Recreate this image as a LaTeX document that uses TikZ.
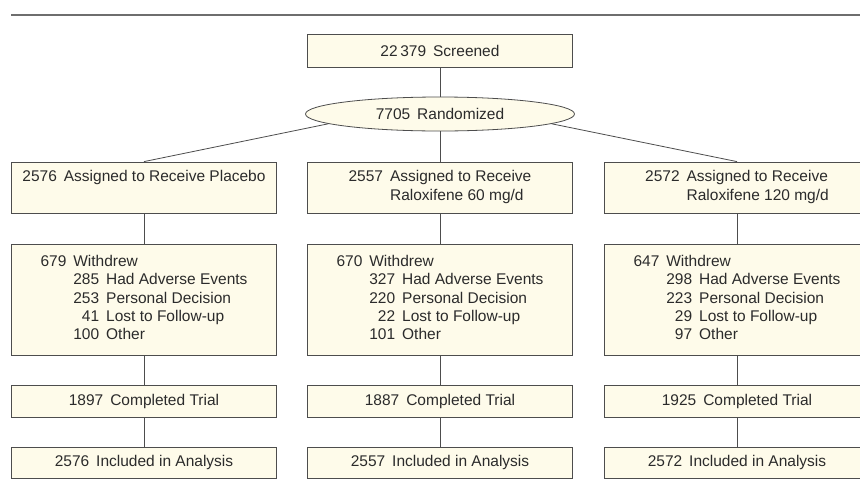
\documentclass[tikz,border=0pt]{standalone}
\usepackage{fontspec}
\setmainfont{Liberation Sans}
\usetikzlibrary{shapes.geometric}
\definecolor{boxfill}{HTML}{FEFBEA}
\definecolor{boxline}{HTML}{4D4D4D}
\definecolor{txt}{HTML}{2B2B2B}
\definecolor{rulecol}{HTML}{6E6E6E}
\newcommand{\numgap}{\hspace{0.45em}}
\newcommand{\wdtab}[5]{\begin{tabular}{@{}r@{\numgap}r@{\numgap}l@{}}#1 & \multicolumn{2}{@{}l@{}}{Withdrew}\\ & #2 & Had Adverse Events\\ & #3 & Personal Decision\\ & #4 & Lost to Follow-up\\ & #5 & Other\end{tabular}}
\begin{document}
\begin{tikzpicture}[x=1pt,y=-1pt,
  box/.style={draw=boxline, fill=boxfill, line width=0.8pt, minimum width=265pt,
    inner sep=0pt, text=txt, font=\fontsize{15.5}{18.4}\selectfont},
  conn/.style={draw=boxline, line width=0.8pt}]
\useasboundingbox (0,0) rectangle (860,485);
\clip (0,0) rectangle (860,485);
\fill[white] (0,0) rectangle (860,485);
\coordinate (ruleL) at (11,15);
\coordinate (ruleR) at (860,15);
\draw[rulecol, line width=1.4pt] (ruleL) -- (ruleR);

\node[box, minimum height=33pt] (scr) at (440,50.5) {22\,379\numgap Screened};
\node[box, ellipse, minimum width=269pt, minimum height=34pt] (rnd) at (440,114) {7705\numgap Randomized};

\node[box, minimum height=51pt] (a1) at (144,187.5)
  {\begin{tabular}{@{}r@{\numgap}l@{}}2576 & Assigned to Receive Placebo\\ & \end{tabular}};
\node[box, minimum height=51pt] (a2) at (440,187.5)
  {\begin{tabular}{@{}r@{\numgap}l@{}}2557 & Assigned to Receive\\ & Raloxifene 60 mg/d\end{tabular}};
\node[box, minimum height=51pt] (a3) at (737,187.5)
  {\begin{tabular}{@{}r@{\numgap}l@{}}2572 & Assigned to Receive\\ & Raloxifene 120 mg/d\end{tabular}};

\node[box, minimum height=111pt] (w1) at (144,299.5) {\wdtab{679}{285}{253}{41}{100}};
\node[box, minimum height=111pt] (w2) at (440,299.5) {\wdtab{670}{327}{220}{22}{101}};
\node[box, minimum height=111pt] (w3) at (737,299.5) {\wdtab{647}{298}{223}{29}{97}};

\node[box, minimum height=32pt] (c1) at (144,401) {1897\numgap Completed Trial};
\node[box, minimum height=32pt] (c2) at (440,401) {1887\numgap Completed Trial};
\node[box, minimum height=32pt] (c3) at (737,401) {1925\numgap Completed Trial};

\node[box, minimum height=31pt] (i1) at (144,462.5) {2576\numgap Included in Analysis};
\node[box, minimum height=31pt] (i2) at (440,462.5) {2557\numgap Included in Analysis};
\node[box, minimum height=31pt] (i3) at (737,462.5) {2572\numgap Included in Analysis};

\draw[conn] (scr) -- (rnd);
\draw[conn] (rnd.185) -- (a1.north);
\draw[conn] (rnd) -- (a2.north);
\draw[conn] (rnd.355) -- (a3.north);
\foreach \k in {1,2,3}{
  \draw[conn] (a\k) -- (w\k);
  \draw[conn] (w\k) -- (c\k);
  \draw[conn] (c\k) -- (i\k);
}
\end{tikzpicture}
\end{document}
